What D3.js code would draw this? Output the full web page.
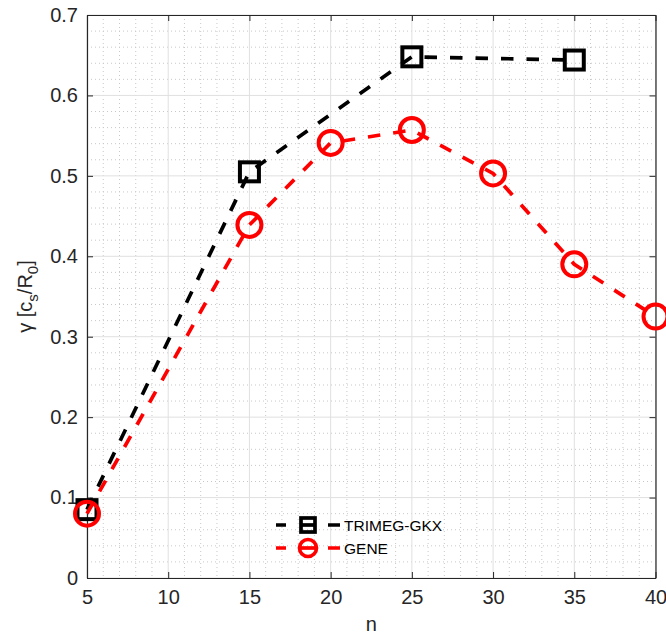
<!DOCTYPE html>
<html><head><meta charset="utf-8">
<script src="https://cdn.jsdelivr.net/npm/d3@7"></script>
<style>body{margin:0;background:#fff}svg{display:block}text{font-family:"Liberation Sans",Arial,sans-serif}</style>
</head><body>
<svg id="c" width="666" height="634"></svg>
<script>
const trimegN = [5, 15, 25, 35];
const trimegG = [0.085, 0.505, 0.648, 0.644];
const geneN = [5, 15, 20, 25, 30, 35, 40];
const geneG = [0.080, 0.439, 0.541, 0.557, 0.503, 0.390, 0.325];
const xTicks = [5, 10, 15, 20, 25, 30, 35, 40];
const yTicks = [0, 0.1, 0.2, 0.3, 0.4, 0.5, 0.6, 0.7];
const seriesNames = ["TRIMEG-GKX", "GENE"];

const svg = d3.select("#c");
const L = 87, R = 655.5, T = 15, B = 578;
const x = d3.scaleLinear().domain([5, 40]).range([L, R]);
const y = d3.scaleLinear().domain([0, 0.7]).range([B, T]);
const axisCol = "#262626";

// minor grid
const xMinor = d3.range(5, 40.01, 1).filter(v => v % 5 !== 0);
const yMinor = d3.range(0, 0.701, 0.02).map(v => +v.toFixed(2)).filter(v => Math.abs(v*10 - Math.round(v*10)) > 1e-6);
const g = svg.append("g");
g.selectAll(".xm").data(xMinor).join("line").attr("x1", d => x(d)).attr("x2", d => x(d)).attr("y1", T).attr("y2", B)
  .attr("stroke", "#c8c8c8").attr("stroke-width", 1).attr("stroke-dasharray", "1,3");
g.selectAll(".ym").data(yMinor).join("line").attr("y1", d => y(d)).attr("y2", d => y(d)).attr("x1", L).attr("x2", R)
  .attr("stroke", "#c8c8c8").attr("stroke-width", 1).attr("stroke-dasharray", "1,3");
// major grid
g.selectAll(".xg").data(xTicks).join("line").attr("x1", d => x(d)).attr("x2", d => x(d)).attr("y1", T).attr("y2", B)
  .attr("stroke", "#e0e0e0").attr("stroke-width", 1);
g.selectAll(".yg").data(yTicks).join("line").attr("y1", d => y(d)).attr("y2", d => y(d)).attr("x1", L).attr("x2", R)
  .attr("stroke", "#e0e0e0").attr("stroke-width", 1);

// axes
const xa = svg.append("g").attr("transform", `translate(0,${B})`)
  .call(d3.axisBottom(x).tickValues(xTicks).tickSizeInner(-6).tickSizeOuter(0).tickPadding(12).tickFormat(d3.format("d")));
const ya = svg.append("g").attr("transform", `translate(${L},0)`)
  .call(d3.axisLeft(y).tickValues(yTicks).tickSizeInner(-6).tickSizeOuter(0).tickPadding(9).tickFormat(d => d === 0 ? "0" : d3.format(".1f")(d)));
const xt = svg.append("g").attr("transform", `translate(0,${T})`)
  .call(d3.axisTop(x).tickValues(xTicks).tickSizeInner(-6).tickSizeOuter(0).tickFormat(""));
const yr = svg.append("g").attr("transform", `translate(${R},0)`)
  .call(d3.axisRight(y).tickValues(yTicks).tickSizeInner(-6).tickSizeOuter(0).tickFormat(""));
[xa, ya, xt, yr].forEach(a => {
  a.select(".domain").attr("stroke", axisCol).attr("stroke-width", 1.2);
  a.selectAll(".tick line").attr("stroke", axisCol).attr("stroke-width", 1);
  a.selectAll(".tick text").attr("fill", axisCol).attr("font-size", 20).attr("font-family", '"Liberation Sans",Arial,sans-serif');
});
xa.selectAll(".tick text").attr("dy", "0.71em");

// axis labels
svg.append("text").attr("x", (L + R) / 2).attr("y", 631).attr("text-anchor", "middle")
  .attr("font-size", 20).attr("fill", axisCol).text("n");
const yl = svg.append("text").attr("transform", `translate(32,${(T + B) / 2}) rotate(-90)`)
  .attr("text-anchor", "middle").attr("font-size", 20).attr("fill", axisCol);
yl.append("tspan").text("γ [c");
yl.append("tspan").attr("font-size", 15).attr("dy", 6).text("s");
yl.append("tspan").attr("dy", -6).text("/R");
yl.append("tspan").attr("font-size", 15).attr("dy", 6).text("0");
yl.append("tspan").attr("dy", -6).text("]");

// lines
const line = d3.line().x(d => x(d[0])).y(d => y(d[1]));
const tData = trimegN.map((n, i) => [n, trimegG[i]]);
const gData = geneN.map((n, i) => [n, geneG[i]]);
svg.append("path").datum(tData).attr("d", line).attr("fill", "none").attr("stroke", "#000")
  .attr("stroke-width", 3.7).attr("stroke-dasharray", "12.5,13");
svg.append("path").datum(gData).attr("d", line).attr("fill", "none").attr("stroke", "#ff0000")
  .attr("stroke-width", 3.7).attr("stroke-dasharray", "12.5,13");
// markers
const sq = 19;
svg.selectAll(".sq").data(tData).join("rect").attr("x", d => x(d[0]) - sq / 2).attr("y", d => y(d[1]) - sq / 2)
  .attr("width", sq).attr("height", sq).attr("fill", "none").attr("stroke", "#000").attr("stroke-width", 4);
svg.selectAll(".ci").data(gData).join("circle").attr("cx", d => x(d[0])).attr("cy", d => y(d[1]))
  .attr("r", 12).attr("fill", "none").attr("stroke", "#ff0000").attr("stroke-width", 4);

// legend
const leg = svg.append("g");
const rows = [{name: seriesNames[0], col: "#000", m: "sq", yy: 525}, {name: seriesNames[1], col: "#ff0000", m: "ci", yy: 548}];
rows.forEach(r => {
  leg.append("line").attr("x1", 276).attr("x2", 340).attr("y1", r.yy).attr("y2", r.yy)
    .attr("stroke", r.col).attr("stroke-width", 3.7).attr("stroke-dasharray", "10,42,12");
  leg.append("line").attr("x1", 300).attr("x2", 316).attr("y1", r.yy).attr("y2", r.yy)
    .attr("stroke", r.col).attr("stroke-width", 3.7);
  if (r.m === "sq") leg.append("rect").attr("x", 308 - 7).attr("y", r.yy - 7).attr("width", 14).attr("height", 14)
    .attr("fill", "none").attr("stroke", r.col).attr("stroke-width", 3.7);
  else leg.append("circle").attr("cx", 308).attr("cy", r.yy).attr("r", 8.5).attr("fill", "none").attr("stroke", r.col).attr("stroke-width", 3.7);
  leg.append("text").attr("x", 344).attr("y", r.yy).attr("dy", "0.36em").attr("font-size", 15.5).attr("fill", "#000").text(r.name);
});
</script>
</body></html>
